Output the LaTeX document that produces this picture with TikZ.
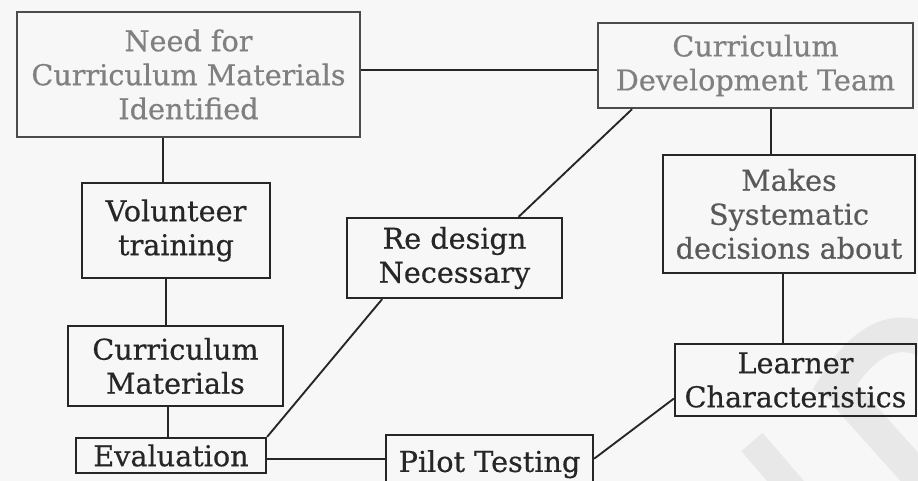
\documentclass[tikz,border=0pt]{standalone}
\usepackage{fontspec}
\setmainfont{DejaVu Serif}
\newfontfamily\boxfont{DejaVu Serif}[FakeBold=0.5]
\usetikzlibrary{calc}
\begin{document}
\begin{tikzpicture}[x=0.75pt,y=-0.75pt,
  box/.style={draw=black!85, line width=1.7pt, inner sep=0pt, align=center,
    font=\boxfont\fontsize{21.5}{25.5}\selectfont, text=black!85},
  faded/.style={draw=black!70, text=black!50},
  halffaded/.style={text=black!65},
  link/.style={draw=black!85, line width=1.4pt},
  wm/.style={draw=black!9, line cap=butt}]
\useasboundingbox (0,0) rectangle (918,481);
\fill[black!3] (0,0) rectangle (918,481);
% faint watermark strokes
\draw[wm, line width=21pt] (752,442) -- (800,498);
\draw[wm, line width=26pt] (828,398) .. controls (858,345) and (890,322) .. (930,342);
\draw[wm, line width=24pt] (845,395) -- (930,490);
% boxes
\node[box, faded, minimum width=257.25pt, minimum height=93.75pt] (need) at (188.5,74.5)
  {Need for\\Curriculum Materials\\Identified};
\node[box, faded, minimum width=236.25pt, minimum height=63.75pt] (team) at (755.5,65.5)
  {Curriculum\\Development Team};
\node[box, minimum width=141pt, minimum height=71.25pt] (vol) at (176,230.5)
  {Volunteer\\training};
\node[box, minimum width=161.25pt, minimum height=60pt] (cm) at (175.5,366)
  {Curriculum\\Materials};
\node[box, minimum width=142.5pt, minimum height=26.25pt] (eval) at (171,455.5)
  {Evaluation};
\node[box, minimum width=161.25pt, minimum height=60pt] (redesign) at (454.5,258)
  {Re design\\Necessary};
\node[box, halffaded, minimum width=189pt, minimum height=88.5pt] (makes) at (789,214)
  {Makes\\Systematic\\decisions about};
\node[box, minimum width=180.75pt, minimum height=54pt] (learner) at (795.5,380)
  {Learner\\Characteristics};
\node[box, minimum width=155.25pt, minimum height=48pt] (pilot) at (489.5,467)
  {\raisebox{9pt}{Pilot Testing}};
% connector anchor points
\coordinate (c1) at ($(vol.north west)!0.43!(vol.north east)$);
\coordinate (c2) at ($(vol.south west)!0.447!(vol.south east)$);
\coordinate (c3) at ($(cm.south west)!0.465!(cm.south east)$);
\coordinate (c4) at ($(redesign.south west)!0.167!(redesign.south east)$);
\coordinate (c5) at ($(redesign.north west)!0.795!(redesign.north east)$);
\coordinate (c6) at ($(team.south west)!0.111!(team.south east)$);
\coordinate (c7) at ($(team.south west)!0.549!(team.south east)$);
\coordinate (c8) at ($(makes.south west)!0.476!(makes.south east)$);
\coordinate (c9) at ($(eval.north east)!0.6!(eval.south east)$);
\coordinate (c10) at ($(pilot.north east)!0.375!(pilot.south east)$);
\coordinate (c11) at ($(learner.north west)!0.75!(learner.south west)$);
\coordinate (c12) at ($(team.north west)!0.55!(team.south west)$);
% connectors
\draw[link] (c12) -- (c12 -| need.east);
\draw[link] (c1) -- (c1 |- need.south);
\draw[link] (c2) -- (c2 |- cm.north);
\draw[link] (c3) -- (c3 |- eval.north);
\draw[link] (eval.north east) -- (c4);
\draw[link] (c5) -- (c6);
\draw[link] (c7) -- (c7 |- makes.north);
\draw[link] (c8) -- (c8 |- learner.north);
\draw[link] (c9) -- (c9 -| pilot.west);
\draw[link] (c10) -- (c11);
\end{tikzpicture}
\end{document}
